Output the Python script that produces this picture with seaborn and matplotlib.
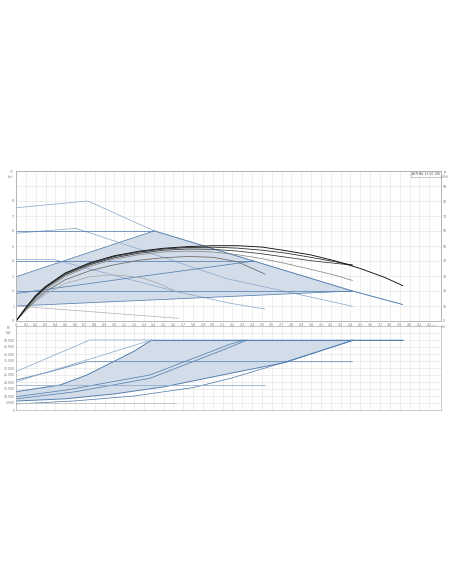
import numpy as np
import matplotlib
matplotlib.use("Agg")
import matplotlib.pyplot as plt
import seaborn as sns

# ---- head curves (Q in m3/h, H in m) ----
q_iii = [0, 0.73, 1.40, 3.42, 3.93]
h_iii = [7.55, 8.0, 6.02, 2.0, 1.1]
q_ii = [0, 0.61, 1.2, 2.13, 2.8, 3.42]
h_ii = [5.85, 6.18, 4.9, 2.84, 1.88, 0.98]
q_i = [0, 0.38, 1.0, 1.63, 2.18, 2.53]
h_i = [4.1, 4.11, 3.04, 1.96, 1.18, 0.8]

# constant pressure lines (end flow, head)
cp_q = [1.40, 2.42, 3.42]
cp_h = [6.0, 4.0, 2.0]
# proportional pressure lines (start head at Q=0)
pp_h0 = [2.95, 1.83, 1.0]

# autoadapt area
aa_q = [0, 0, 1.40, 3.42]
aa_h = [1.0, 2.95, 6.02, 2.0]

# grey helper line
gl_q = [0, 1.65]
gl_h = [1.0, 0.18]

# efficiency-like curves
qa = [0, 0.1, 0.2, 0.3, 0.5, 0.75, 1.0, 1.25, 1.5, 1.75, 2.0, 2.25, 2.5, 2.75, 3.0, 3.25, 3.5, 3.75, 3.93]
ha = [0, 0.9, 1.7, 2.3, 3.2, 3.88, 4.35, 4.65, 4.85, 4.96, 5.02, 5.02, 4.93, 4.68, 4.4, 4.0, 3.5, 2.9, 2.36]
qb = [0, 0.1, 0.2, 0.3, 0.5, 0.75, 1.0, 1.25, 1.5, 1.75, 2.0, 2.25, 2.5, 2.75, 3.0, 3.25, 3.42]
hb = [0, 0.88, 1.65, 2.25, 3.15, 3.82, 4.3, 4.6, 4.8, 4.9, 4.92, 4.86, 4.72, 4.52, 4.24, 3.94, 3.73]
hc = [0, 0.85, 1.6, 2.2, 3.08, 3.75, 4.22, 4.52, 4.72, 4.8, 4.78, 4.66, 4.48, 4.25, 4.02, 3.84, 3.73]
hd = [0, 0.8, 1.52, 2.1, 2.98, 3.65, 4.12, 4.42, 4.6, 4.66, 4.6, 4.42, 4.16, 3.82, 3.44, 3.04, 2.7]
qe = [0, 0.1, 0.2, 0.3, 0.5, 0.75, 1.0, 1.25, 1.5, 1.75, 2.0, 2.25, 2.53]
he = [0, 0.75, 1.4, 1.95, 2.75, 3.35, 3.75, 4.05, 4.22, 4.3, 4.25, 3.95, 3.13]
qf = [0, 0.1, 0.2, 0.3, 0.5, 0.75, 0.96, 1.1, 1.3, 1.45, 1.63]
hf = [0, 0.7, 1.3, 1.8, 2.5, 2.95, 3.07, 3.03, 2.84, 2.5, 1.96]

# ---- power curves (P1 in W) ----
p_iii_q = [0, 0.75, 3.93]
p_iii = [27.4, 50, 50]
p_top_q = [0, 0.45, 0.72, 0.99, 1.2, 1.38]
p_top = [13.1, 17.9, 25.0, 34.5, 42.0, 50.0]
p_bot_q = [0, 0.5, 1.0, 1.5, 2.18, 2.74, 3.43]
p_bot = [6.4, 8.0, 11.5, 16.5, 26.2, 34.0, 50.0]
p_ii_q = [0, 0.35, 0.72, 3.42]
p_ii = [21.4, 27.4, 34.5, 34.5]
p_pp3_q = [0, 1.38]
p_pp3 = [20.2, 50.0]
p_pp2a_q = [0, 0.515, 1.36, 2.18, 2.33]
p_pp2a = [9.5, 14.3, 25.0, 47.1, 50.0]
p_pp2b_q = [0, 0.6, 1.36, 2.13, 2.35]
p_pp2b = [8.0, 13.0, 22.6, 43.6, 50.0]
p_pp1_q = [0, 0.6, 1.2, 1.8, 2.18, 2.70, 3.42]
p_pp1 = [4.3, 6.5, 10.0, 16.0, 22.6, 33.5, 49.5]
p_i_q = [0, 2.53]
p_i = [17.9, 17.9]
p_gl_q = [0, 1.63]
p_gl = [5.2, 5.2]

BLUE = "#5580b0"
LBLUE = "#8eabcc"
FILL = "#d3dde9"
GRID = "#e2e2e2"
TXT = "#777777"


def line(ax, q, h, color, lw=0.55):
    sns.lineplot(x=q, y=h, ax=ax, sort=False, estimator=None,
                 color=color, linewidth=lw, legend=False)


sns.set_style("white")
fig = plt.figure(figsize=(4.52, 5.84), dpi=100)
W, H = 452, 584
ax = fig.add_axes([16 / W, 1 - 321 / H, 425 / W, 150 / H])
axp = fig.add_axes([16 / W, 1 - 410 / H, 425 / W, 84 / H])

xmax = 4.32
xt = np.round(np.arange(0, 4.25, 0.1), 1)

# --- head panel ---
ax.fill(aa_q, aa_h, color=FILL, lw=0)
line(ax, q_iii, h_iii, LBLUE)
line(ax, q_ii, h_ii, LBLUE)
line(ax, q_i, h_i, LBLUE)
for qe_, he_, h0 in zip(cp_q, cp_h, pp_h0):
    line(ax, [0, qe_], [he_, he_], BLUE)
    line(ax, [0, qe_], [h0, he_], BLUE)
line(ax, [1.40, 3.42, 3.93], [6.02, 2.0, 1.1], BLUE)
line(ax, gl_q, gl_h, "#b5b5b5")
line(ax, qf, hf, "#aaaaaa")
line(ax, qb, hd, "#888888")
line(ax, qe, he, "#666666")
line(ax, qb, hc, "#333333")
line(ax, qb, hb, "#222222")
line(ax, qa, ha, "#111111", 0.65)

ax.set_xlim(0, xmax)
ax.set_ylim(0, 10)
ax.set_xticks(xt)
ax.set_xticklabels(["0"] + [f"{v:.1f}" for v in xt[1:]])
ax.set_yticks(range(11))
ax.set_yticklabels([str(v) if v <= 8 else "" for v in range(11)])
ax.set_xlabel("")
ax.set_ylabel("")
ax.grid(True, color=GRID, lw=0.4)
ax.set_axisbelow(True)
ax.tick_params(length=0, labelsize=2.3, labelcolor=TXT, pad=1.2)

axr = ax.twinx()
axr.set_ylim(0, 10)
axr.set_yticks(range(11))
axr.set_yticklabels([str(v * 10) if v <= 9 else "" for v in range(11)])
axr.tick_params(length=0, labelsize=2.3, labelcolor=TXT, pad=1.5)

ax.text(0.998, 0.995, "ALPHA2 32-60 180", transform=ax.transAxes,
        ha="right", va="top", fontsize=2.2, color="#555555",
        bbox=dict(boxstyle="square,pad=0.3", fc="white", ec="#999999", lw=0.4))
ax.text(4.225, -0.22, "Q (m\u00b3/h)", ha="left", va="top", fontsize=2.3, color=TXT)

fig.text(11 / W, 1 - 170 / H, "H\n(m)", ha="center", va="top", fontsize=2.3, color=TXT)
fig.text(445 / W, 1 - 170 / H, "p\n(kPa)", ha="center", va="top", fontsize=2.3, color=TXT)
fig.text(9 / W, 1 - 326 / H, "P1\n(W)", ha="center", va="top", fontsize=2.3, color=TXT)

# --- power panel ---
axp.fill(p_top_q + [3.43] + p_bot_q[::-1], p_top + [50.0] + p_bot[::-1],
         color=FILL, lw=0)
line(axp, p_iii_q, p_iii, LBLUE)
line(axp, [1.38, 3.93], [50, 50], BLUE, 0.7)
line(axp, p_top_q, p_top, BLUE, 0.7)
line(axp, p_bot_q, p_bot, BLUE, 0.7)
line(axp, p_ii_q, p_ii, BLUE)
line(axp, p_pp3_q, p_pp3, LBLUE)
line(axp, p_pp2a_q, p_pp2a, BLUE)
line(axp, p_pp2b_q, p_pp2b, BLUE)
line(axp, p_pp1_q, p_pp1, BLUE)
line(axp, p_i_q, p_i, LBLUE)
line(axp, p_gl_q, p_gl, "#c0c0c0")

axp.set_xlim(0, xmax)
axp.set_ylim(0, 60)
axp.set_xticks(xt)
axp.set_xticklabels([])
axp.set_yticks(range(0, 61, 5))
axp.set_yticklabels(["0"] + [f"{v:.3f}" if v <= 50 else "" for v in range(5, 61, 5)])
axp.set_xlabel("")
axp.set_ylabel("")
axp.grid(True, color=GRID, lw=0.4)
axp.set_axisbelow(True)
axp.tick_params(length=0, labelsize=2.2, labelcolor=TXT, pad=1.2)

for a in (ax, axp, axr):
    for s in a.spines.values():
        s.set_color("#b0b0b0")
        s.set_linewidth(0.5)

fig.savefig("out.png", dpi=100, facecolor="white")
